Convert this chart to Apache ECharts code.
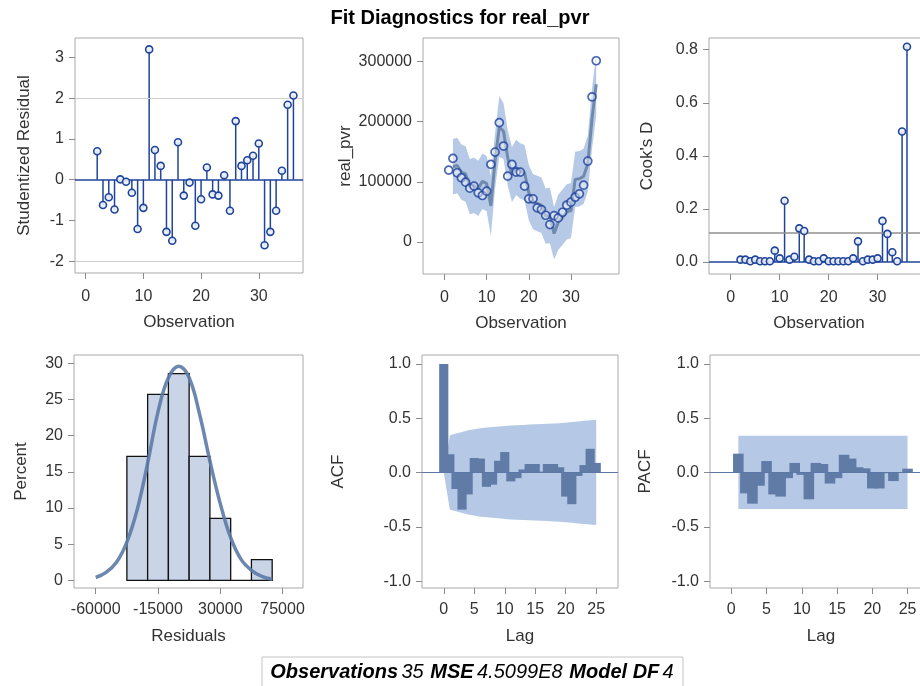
<!DOCTYPE html>
<html><head><meta charset="utf-8">
<script src="https://cdn.jsdelivr.net/npm/echarts@6/dist/echarts.min.js"></script>
<style>html,body{margin:0;padding:0;background:#fff}#c{width:920px;height:686px}</style>
</head><body><div id="c"></div>
<script>
// ================= DATA =================
const titleText = 'Fit Diagnostics for real_pvr';
// Panel 1: studentized residuals
const residObs = [2,3,4,5,6,7,8,9,10,11,12,13,14,15,16,17,18,19,20,21,22,23,24,25,26,27,28,29,30,31,32,33,34,35,36];
const studResid = [0.70,-0.62,-0.43,-0.73,0.01,-0.05,-0.32,-1.21,-0.69,3.20,0.73,0.34,-1.28,-1.50,0.92,-0.39,-0.07,-1.13,-0.48,0.30,-0.36,-0.39,0.11,-0.76,1.44,0.34,0.48,0.59,0.89,-1.61,-1.28,-0.76,0.22,1.84,2.07];
const residRefLines = [2, -2];
// Panel 2: observed real_pvr, fitted line and band
const allObs = [1,2,3,4,5,6,7,8,9,10,11,12,13,14,15,16,17,18,19,20,21,22,23,24,25,26,27,28,29,30,31,32,33,34,35,36];
const realPvr = [119400,138900,115000,106700,99400,89400,92800,81700,77200,84400,128900,149400,198300,159400,109400,128900,116100,116100,92800,71700,71700,56700,53900,44400,28900,43900,40000,49400,61100,66100,74400,80000,94400,134400,241100,301100];
const fitObs = residObs;
const predicted = [125000,127000,116000,113000,92000,94000,89000,101000,97000,60000,135000,191000,184000,140000,112000,124000,118000,115000,82000,67000,64000,61000,43000,44000,14000,33000,41000,50000,52000,104000,105000,109000,130000,205000,262000];
const upperLimit = [171000,173000,162000,159000,138000,140000,135000,147000,143000,110000,181000,242000,231000,186000,158000,170000,164000,161000,128000,113000,110000,107000,89000,90000,58000,79000,87000,96000,98000,150000,151000,155000,177000,255000,313000];
const lowerLimit = [79000,81000,70000,67000,46000,48000,43000,55000,51000,10000,89000,141000,138000,94000,66000,78000,72000,69000,36000,21000,18000,15000,-3000,-2000,-29000,-13000,-5000,4000,6000,58000,59000,63000,84000,155000,211000];
// Panel 3: Cook's D
const cooksObs = residObs;
const cooksD = [0.009,0.009,0.003,0.009,0.003,0.003,0.003,0.043,0.014,0.231,0.009,0.020,0.127,0.117,0.009,0.003,0.003,0.014,0.003,0.003,0.003,0.003,0.003,0.014,0.078,0.003,0.009,0.009,0.014,0.155,0.106,0.037,0.003,0.492,0.811];
const cooksRef = 0.114;
// Panel 4: residual histogram + normal curve
const histMid = [-30000,-15000,0,15000,30000,45000,60000];
const histPct = [17.14,25.71,28.57,17.14,8.57,0,2.86];
const curveX = [-60000,-52500,-45000,-37500,-30000,-22500,-15000,-7500,0,7500,15000,22500,30000,37500,45000,52500,60000,67500];
const curveY = [0.4,1.1,2.5,5.3,9.8,16.2,23.3,28.0,29.6,28.0,23.0,16.5,10.6,5.9,2.9,1.4,0.55,0.15];
// Panel 5: ACF
const acfLag = [0,1,2,3,4,5,6,7,8,9,10,11,12,13,14,15,16,17,18,19,20,21,22,23,24,25];
const acfVal = [1.0,0.17,-0.15,-0.34,-0.20,0.135,0.13,-0.13,-0.11,0.11,0.19,-0.08,-0.05,0.03,0.08,0.08,0.01,0.08,0.08,0.05,-0.22,-0.29,-0.03,0.07,0.22,0.09];
const acfUpper = [0,0.345,0.36,0.375,0.39,0.40,0.41,0.415,0.42,0.425,0.43,0.435,0.437,0.44,0.443,0.446,0.448,0.45,0.453,0.456,0.46,0.466,0.472,0.477,0.482,0.487];
const acfLower = [0,-0.34,-0.355,-0.37,-0.385,-0.395,-0.405,-0.41,-0.415,-0.42,-0.425,-0.43,-0.432,-0.435,-0.438,-0.441,-0.443,-0.445,-0.448,-0.451,-0.455,-0.461,-0.467,-0.472,-0.477,-0.482];
// Panel 6: PACF
const pacfLag = [1,2,3,4,5,6,7,8,9,10,11,12,13,14,15,16,17,18,19,20,21,22,23,24,25];
const pacfVal = [0.175,-0.19,-0.285,-0.12,0.107,-0.20,-0.22,-0.05,0.09,-0.02,-0.245,0.09,0.08,-0.10,-0.05,0.165,0.13,0.05,0.04,-0.145,-0.145,-0.005,-0.077,0.0,0.037];
const pacfBandLag = [1,25];
const pacfUpper = [0.34,0.34];
const pacfLower = [-0.335,-0.335];
// Tick values
const obsTicks = [0,10,20,30];
const residTicks = [-2,-1,0,1,2,3];
const pvrTicks = [0,100000,200000,300000];
const cooksTicks = [0,0.2,0.4,0.6,0.8];
const histXTicks = [-60000,-15000,30000,75000];
const histYTicks = [0,5,10,15,20,25,30];
const lagTicks = [0,5,10,15,20,25];
const corrTicks = [-1,-0.5,0,0.5,1];
// Footer
const footerItems = [['Observations','35'],['MSE','4.5099E8'],['Model DF','4']];

// ================= CHART =================
const FONT = 'Liberation Sans';
const BLUE = '#1f449b';
const chart = echarts.init(document.getElementById('c'), null, {renderer:'canvas'});
const zip = (a,b) => a.map((v,i)=>[v,b[i]]);

function grid(l,t,w,h){
  return {left:l, top:t, width:w, height:h, show:true, borderColor:'#a9a9a9', borderWidth:1,
          backgroundColor:'transparent', containLabel:false, outerBoundsMode:'none'};
}
function xAx(gi, min, max, ticks, name, margin, fmt){
  return {type:'value', gridIndex:gi, min, max, name, nameLocation:'middle', nameGap: (gi<3?41:40),
    position:'bottom',
    nameTextStyle:{fontSize:17, color:'#333', fontFamily:FONT},
    axisLine:{show:false, onZero:false}, splitLine:{show:false},
    axisTick:{show:true, inside:false, length:6, customValues:ticks, lineStyle:{color:'#8a8a8a'}},
    axisLabel:{show:true, customValues:ticks, margin, fontSize:16, color:'#333', fontFamily:FONT,
      formatter: fmt || (v=>String(v))}};
}
function yAx(gi, min, max, ticks, name, gap, fmt){
  return {type:'value', gridIndex:gi, min, max, name, nameLocation:'middle', nameGap:gap,
    position:'left',
    nameTextStyle:{fontSize:17, color:'#333', fontFamily:FONT},
    axisLine:{show:false, onZero:false}, splitLine:{show:false},
    axisTick:{show:true, inside:false, length:6, customValues:ticks, lineStyle:{color:'#8a8a8a'}},
    axisLabel:{show:true, customValues:ticks, margin:11, fontSize:16, color:'#333', fontFamily:FONT,
      formatter: fmt || (v=>String(v))}};
}
const f1 = v => Number(v).toFixed(1);

function zeroLine(color, width){
  return {symbol:['none','none'], silent:true, animation:false, label:{show:false},
          lineStyle:{type:'solid', color, width}, emphasis:{disabled:true}, data:[{yAxis:0}]};
}
function stemSeries(ai, xs, ys){
  return {type:'custom', xAxisIndex:ai, yAxisIndex:ai, data:zip(xs,ys), z:3, silent:true,
    renderItem:(p, api)=>{
      const x=api.value(0), y=api.value(1);
      const a=api.coord([x,0]), b=api.coord([x,y]);
      return {type:'line', shape:{x1:a[0],y1:a[1],x2:b[0],y2:b[1]}, style:{stroke:BLUE, lineWidth:1.5}};
    }};
}
function markerSeries(ai, xs, ys, size){
  return {type:'scatter', xAxisIndex:ai, yAxisIndex:ai, data:zip(xs,ys), symbol:'circle', symbolSize:size, z:5, silent:true,
    itemStyle:{color:'rgba(235,239,248,0.9)', borderColor:BLUE, borderWidth:1.6, opacity:1}};
}
function bandSeries(ai, xs, up, lo, color){
  return {type:'custom', xAxisIndex:ai, yAxisIndex:ai, data:[[xs[0], up[0]]], z:1, silent:true,
    renderItem:(p, api)=>{
      const pts=[];
      for(let i=0;i<xs.length;i++) pts.push(api.coord([xs[i], up[i]]));
      for(let i=xs.length-1;i>=0;i--) pts.push(api.coord([xs[i], lo[i]]));
      return {type:'polygon', shape:{points:pts}, style:{fill:color}};
    }};
}
function corrBars(ai, xs, ys){
  return {type:'custom', xAxisIndex:ai, yAxisIndex:ai, data:zip(xs,ys), z:3, silent:true,
    renderItem:(p, api)=>{
      const x=api.value(0), y=api.value(1);
      const a=api.coord([x-0.75,0]), b=api.coord([x+0.75,y]);
      return {type:'rect', shape:{x:a[0], y:Math.min(a[1],b[1]), width:b[0]-a[0], height:Math.abs(b[1]-a[1])},
              style:{fill:'#5f7ba6'}};
    }};
}
function histSeries(ai, mids, pcts){
  return {type:'custom', xAxisIndex:ai, yAxisIndex:ai, data:zip(mids,pcts), z:2, silent:true,
    renderItem:(p, api)=>{
      const half=(mids.length>1 ? (mids[1]-mids[0]) : 1)/2;
      const x=api.value(0), y=api.value(1);
      const a=api.coord([x-half,0]), b=api.coord([x+half,y]);
      return {type:'rect', shape:{x:a[0], y:Math.min(a[1],b[1]), width:b[0]-a[0], height:Math.abs(b[1]-a[1])},
              style:{fill:'#c9d5e7', stroke:'#111', lineWidth:1.3}};
    }};
}

const footerText = footerItems.map(([k,v])=>'{b|'+k+'} {n|'+v+'}').join('  ');

const option = {
  animation:false,
  backgroundColor:'#fff',
  title:{text:titleText, left:'center', top:3,
    textStyle:{fontSize:20, fontWeight:'bold', color:'#000', fontFamily:FONT}},
  grid:[grid(75,38,228,235), grid(423,38,196,236), grid(709,38,220,236),
        grid(74,355,229,233), grid(422,355,196,233), grid(710,355,222,233)],
  xAxis:[
    xAx(0,-1.85,37.66,obsTicks,'Observation',16),
    xAx(1,-5.1,41.4,obsTicks,'Observation',16),
    xAx(2,-4.44,40.5,obsTicks,'Observation',16),
    xAx(3,-75700,89760,histXTicks,'Residuals',14),
    xAx(4,-3.57,28.57,lagTicks,'Lag',14),
    xAx(5,-3.02,28.47,lagTicks,'Lag',14)
  ],
  yAxis:[
    yAx(0,-2.29,3.48,residTicks,'Studentized Residual',42),
    yAx(1,-53200,338900,pvrTicks,'real_pvr',69),
    yAx(2,-0.045,0.844,cooksTicks,"Cook's D",53,f1),
    yAx(3,-1.05,31.15,histYTicks,'Percent',44),
    yAx(4,-1.061,1.083,corrTicks,'ACF',75,f1),
    yAx(5,-1.061,1.083,corrTicks,'PACF',56,f1)
  ],
  graphic:[
    {type:'rect', shape:{x:262,y:657,width:421,height:32}, style:{fill:'#fff', stroke:'#c4c4c4', lineWidth:1}, z:10},
    {type:'text', x:472, y:672, z:11, style:{text:footerText, align:'center', verticalAlign:'middle',
      rich:{b:{fontWeight:'bold', fontStyle:'italic', fontSize:20, fontFamily:FONT, fill:'#000', color:'#000'},
            n:{fontStyle:'italic', fontSize:20, fontFamily:FONT, fill:'#000', color:'#000'}}}}
  ],
  series:[
    // panel 1
    Object.assign(stemSeries(0, residObs, studResid), {
      markLine:{symbol:['none','none'], silent:true, animation:false, label:{show:false},
        lineStyle:{type:'solid', color:'#cfcfcf', width:1}, data: residRefLines.map(v=>({yAxis:v}))}}),
    Object.assign(markerSeries(0, residObs, studResid, 7), {markLine: zeroLine(BLUE, 1.6)}),
    // panel 2
    bandSeries(1, fitObs, upperLimit, lowerLimit, '#b6cae7'),
    {type:'line', xAxisIndex:1, yAxisIndex:1, data:zip(fitObs,predicted), showSymbol:false, symbol:'none', z:2, silent:true,
     lineStyle:{color:'#6d86ab', width:3, opacity:0.95}},
    Object.assign(markerSeries(1, allObs, realPvr, 8), {itemStyle:{color:'rgba(255,255,255,0.55)', borderColor:'#1a3f9c', borderWidth:1.7}}),
    // panel 3
    Object.assign(stemSeries(2, cooksObs, cooksD), {
      markLine:{symbol:['none','none'], silent:true, animation:false, label:{show:false},
        lineStyle:{type:'solid', color:'#8f8f8f', width:1.5}, data:[{yAxis:cooksRef}]}}),
    Object.assign(markerSeries(2, cooksObs, cooksD, 7), {markLine: zeroLine(BLUE, 1.6)}),
    // panel 4
    histSeries(3, histMid, histPct),
    {type:'line', xAxisIndex:3, yAxisIndex:3, data:zip(curveX,curveY), smooth:0.4, showSymbol:false, symbol:'none', z:4, silent:true,
     lineStyle:{color:'#5d7ba7', width:3.5, opacity:0.9}},
    // panel 5
    bandSeries(4, acfLag, acfUpper, acfLower, '#b5c9e7'),
    Object.assign(corrBars(4, acfLag, acfVal), {markLine: zeroLine('#5a77a6', 1.2)}),
    // panel 6
    bandSeries(5, pacfBandLag, pacfUpper, pacfLower, '#b5c9e7'),
    Object.assign(corrBars(5, pacfLag, pacfVal), {markLine: zeroLine('#5a77a6', 1.2)})
  ]
};
chart.setOption(option);
</script>
</body></html>
